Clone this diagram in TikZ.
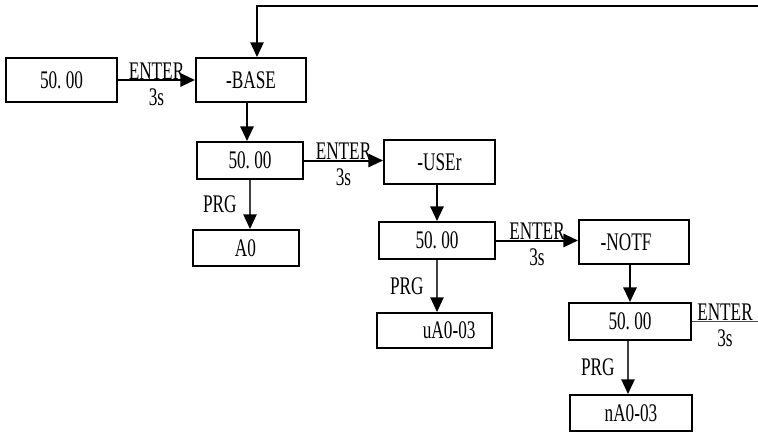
\documentclass[tikz,border=0pt]{standalone}
\usepackage{fontspec}
\setmainfont{Liberation Serif}[FakeStretch=0.68]
\usetikzlibrary{arrows.meta}

\tikzset{
	disp/.style 2 args={draw, line width=1.5pt, inner sep=0pt,
		minimum width=#1, minimum height=#2},
	go/.style={line width=1.5pt, -{Triangle[length=11pt,width=10pt]}},
	prg/.style={line width=1pt, black!75, -{Triangle[length=11pt,width=10pt,color=black]}},
	thin/.style={line width=1pt, black!70},
	keyup/.style={above, inner sep=0pt, outer sep=0.5pt, text=black},
	keydn/.style={below, inner sep=5.5pt, text=black},
	keylf/.style={left=9.5pt, inner sep=0pt, text=black}
}

\begin{document}
\begin{tikzpicture}[x=0.75pt, y=-0.75pt, font=\fontsize{19pt}{21pt}\selectfont]
		\useasboundingbox (0,0) rectangle (758,432);
		
		% Displays
		\node[disp={83.25pt}{33pt}] (start) at (61.5,80) {50.\,00};
		\node[disp={82.5pt}{33pt}] (base) at (251,80) {-BASE};
		\node[disp={79.5pt}{27.75pt}] (val1) at (250,160.5) {50.\,00};
		\node[disp={79.5pt}{27pt}] (ao) at (245.5,248) {A0};
		\node[disp={83.25pt}{33pt}] (user) at (439.5,162) {-USEr};
		\node[disp={87pt}{27.75pt}] (val2) at (437,240.5) {50.\,00};
		\node[disp={86.25pt}{26.25pt}] (uao) at (434.5,330.5) {\hspace*{22pt}uA0-03};
		\node[disp={82.5pt}{33pt}] (notf) at (634,242) {-NOTF\hspace*{12pt}};
		\node[disp={91.5pt}{27.75pt}] (val3) at (630,321.5) {50.\,00};
		\node[disp={91.5pt}{27pt}] (nao) at (631,413) {nA0-03};
		
		% Loop ends (cut at the right edge)
		\coordinate (loopin) at (758,6);
		\coordinate (loopout) at (758,321.5);
		
		% ENTER 3s
		\draw[go] (start.east) -- (base.west)
			node[midway, keyup] (k1) {ENTER} node[midway, keydn] (t1) {3s};
		\draw[go] (val1.east) -- (val1.east -| user.west)
			node[midway, keyup] (k2) {ENTER} node[midway, keydn] (t2) {3s};
		\draw[go] (val2.east) -- (val2.east -| notf.west)
			node[midway, keyup] (k3) {ENTER} node[midway, keydn] (t3) {3s};
		\draw[thin] (val3.east) -- (loopout)
			node[midway, keyup] (k4) {ENTER} node[midway, keydn] (t4) {3s};
		
		% Down
		\draw[go] ([xshift=-3pt]base.south) -- ([xshift=-3pt]base.south |- val1.north);
		\draw[go] (val2.north |- user.south) -- (val2.north);
		\draw[go] (val3.north |- notf.south) -- (val3.north);
		\draw[go, line width=1pt] (loopin) -| ([xshift=4.5pt]base.north);
		
		% PRG
		\draw[prg] (val1.south) -- (val1.south |- ao.north)
			node[midway, keylf] (p1) {PRG};
		\draw[prg] (val2.south) -- (val2.south |- uao.north)
			node[midway, keylf] (p2) {PRG};
		\draw[prg] ([xshift=-1.5pt]val3.south) -- ([xshift=-1.5pt]val3.south |- nao.north)
			node[midway, keylf] (p3) {PRG};
\end{tikzpicture}
\end{document}
